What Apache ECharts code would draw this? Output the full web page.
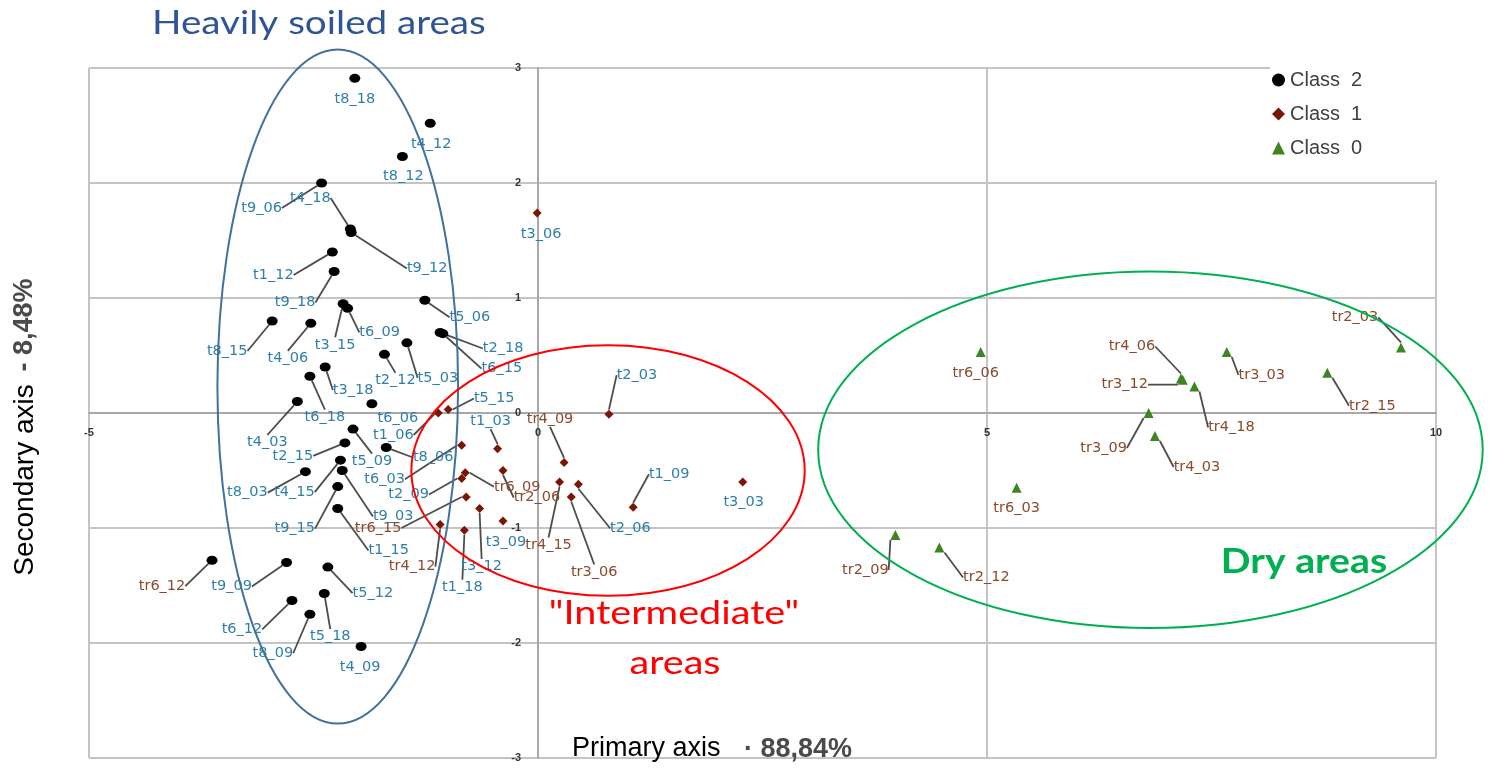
<!DOCTYPE html>
<html>
<head>
<meta charset="utf-8">
<script src="https://cdn.jsdelivr.net/npm/echarts@6/dist/echarts.min.js"></script>
<style>
  html, body { margin: 0; padding: 0; background: #ffffff; }
  #chart { width: 1490px; height: 773px; }
</style>
</head>
<body>
<div id="chart"></div>
<script>
// ---- Sample scores on the first two principal axes ----

// Class 2 (black circles)
const class2Names = ['t8_18','t4_12','t8_12','t9_06','t4_18','t9_12','t1_12','t9_18','t5_06','t3_15',
  't6_09','t8_15','t4_06','t2_18','t6_15','t5_03','t2_12','t3_18','t6_18','t4_03',
  't6_06','t5_09','t2_15','t8_06','t4_15','t8_03','t9_03','t9_15','t1_15','tr6_12',
  't9_09','t5_12','t5_18','t6_12','t8_09','t4_09'];
const class2X = [-2.04,-1.20,-1.51,-2.41,-2.09,-2.08,-2.29,-2.27,-1.26,-2.17,
  -2.12,-2.96,-2.53,-1.09,-1.06,-1.46,-1.71,-2.37,-2.54,-2.68,
  -1.85,-2.06,-2.15,-1.69,-2.20,-2.59,-2.18,-2.23,-2.23,-3.63,
  -2.80,-2.34,-2.38,-2.74,-2.54,-1.97];
const class2Y = [2.91,2.52,2.23,2.00,1.60,1.57,1.40,1.23,0.98,0.95,
  0.91,0.80,0.78,0.70,0.69,0.61,0.51,0.40,0.32,0.10,
  0.08,-0.14,-0.26,-0.30,-0.41,-0.51,-0.50,-0.64,-0.83,-1.28,
  -1.30,-1.34,-1.57,-1.63,-1.75,-2.03];

// Class 1 (dark red diamonds)
const class1Names = ['t3_06','t5_15','t1_06','t2_03','t6_03','t1_03','tr4_09','tr6_09','t2_09','tr2_06',
  'tr4_15','t2_06','tr3_06','tr6_15','t3_12','t3_09','tr4_12','t1_18','t1_09','t3_03'];
const class1X = [-0.01,-1.00,-1.11,0.79,-0.85,-0.45,0.29,-0.81,-0.85,-0.39,
  0.24,0.45,0.37,-0.80,-0.65,-0.39,-1.09,-0.82,1.06,2.28];
const class1Y = [1.74,0.03,0.00,-0.01,-0.28,-0.31,-0.43,-0.52,-0.57,-0.50,
  -0.60,-0.62,-0.73,-0.73,-0.83,-0.94,-0.97,-1.02,-0.82,-0.60];

// Class 0 (green triangles)
const class0Names = ['tr6_06','tr4_06','tr3_12','tr3_03','tr2_03','tr2_15','tr4_18','tr3_09','tr4_03','tr6_03',
  'tr2_09','tr2_12'];
const class0X = [4.93,7.16,7.18,7.67,9.61,8.79,7.31,6.80,6.87,5.33,3.98,4.47];
const class0Y = [0.53,0.30,0.29,0.53,0.57,0.35,0.23,0.00,-0.20,-0.65,-1.06,-1.17];

// Axis ticks
const xTicks = { min: -5, max: 10, step: 5 };
const yTicks = { min: -3, max: 3, step: 1 };

// ---- Label placement: [dx, dy, leader line on/off], pixels from the marker ----
const class2LabelPos = [[0,21,0],[1,21,0],[1,20,0],[-60,25,1],[-40,-31,1],[76,36,1],[-59,23,1],[-39,31,1],[45,17,1],[-8,41,1],
  [32,24,1],[-45,30,1],[-23,35,1],[63,16,1],[59,35,1],[31,35,1],[11,26,1],[28,23,1],[15,41,1],[-30,41,1],
  [26,14,0],[19,32,1],[-52,13,1],[47,10,1],[-46,32,1],[-58,21,1],[51,46,1],[-43,42,1],[51,42,1],[-50,26,1],
  [-55,24,1],[45,26,1],[6,43,1],[-50,29,1],[-37,39,1],[-1,21,0]];
const class1LabelPos = [[4,21,0],[46,-11,1],[-45,22,1],[28,-39,1],[-77,34,1],[-7,-27,1],[-14,-43,1],[52,14,1],[-53,16,1],[34,27,1],
  [-11,63,1],[52,44,1],[23,75,1],[-88,31,1],[2,58,1],[3,21,0],[-28,42,1],[-2,57,1],[36,-33,1],[1,20,0]];
const class0LabelPos = [[-5,21,0],[-49,-32,1],[-58,5,1],[35,23,1],[-46,-30,1],[45,33,1],[37,41,1],[-45,35,1],[42,31,1],[0,20,0],
  [-30,35,1],[47,30,1]];

// Group outlines in data units: centre [x, y], radii [rx, ry]
const soiledZone = { c: [-2.23, 0.23], r: [1.34, 2.93] };
const intermediateZone = { c: [0.78, -0.50], r: [2.19, 1.09] };
const dryZone = { c: [6.82, -0.32], r: [3.70, 1.55] };

// Plot area in pixels
const GRID = { left: 89, right: 54, top: 68, bottom: 15 };
const PLOT_W = 1490 - GRID.left - GRID.right;
const PLOT_H = 773 - GRID.top - GRID.bottom;
// Shift the axes so they cross at the origin
const xAxisShift = -PLOT_H * (0 - yTicks.min) / (yTicks.max - yTicks.min);
const yAxisShift = -PLOT_W * (0 - xTicks.min) / (xTicks.max - xTicks.min);

const chart = echarts.init(document.getElementById('chart'));

const SAMPLE_BLUE = '#2F7FA8';
const SAMPLE_BROWN = '#8A4A2C';

function buildData(names, xs, ys, pos) {
  return names.map((n, i) => ({
    name: n,
    value: [xs[i], ys[i]],
    label: { color: n.startsWith('tr') ? SAMPLE_BROWN : SAMPLE_BLUE },
    labelLine: { show: pos[i][2] === 1 }
  }));
}

function makeSeries(name, symbol, size, color, names, xs, ys, pos) {
  return {
    name: name,
    type: 'scatter',
    symbol: symbol,
    symbolSize: size,
    itemStyle: { color: color, opacity: 1 },
    data: buildData(names, xs, ys, pos),
    label: {
      show: true,
      position: 'inside',
      formatter: '{b}',
      fontFamily: 'DejaVu Sans',
      fontSize: 14.5,
      align: 'center',
      verticalAlign: 'middle'
    },
    labelLine: { show: false, lineStyle: { color: '#4d4d4d', width: 1.8 } },
    labelLayout: function (p) {
      const o = pos[p.dataIndex];
      return { dx: o[0], dy: o[1], hideOverlap: false };
    },
    emphasis: { disabled: true },
    z: 3
  };
}

const axisLineStyle = { color: '#A8A8A8', width: 2 };
const gridLineStyle = { color: '#C4C4C4', width: 2 };

chart.setOption({
  animation: false,
  backgroundColor: '#ffffff',
  grid: { left: GRID.left, right: GRID.right, top: GRID.top, bottom: GRID.bottom, containLabel: false },
  xAxis: {
    type: 'value',
    position: 'bottom',
    offset: xAxisShift,
    min: xTicks.min, max: xTicks.max, interval: xTicks.step,
    axisLine: { onZero: false, lineStyle: axisLineStyle },
    axisTick: { show: false },
    axisLabel: { color: '#333', fontSize: 11, fontWeight: 'bold', margin: 14, fontFamily: 'Liberation Sans' },
    splitLine: { show: true, lineStyle: gridLineStyle }
  },
  yAxis: {
    type: 'value',
    position: 'left',
    offset: yAxisShift,
    min: yTicks.min, max: yTicks.max, interval: yTicks.step,
    axisLine: { onZero: false, lineStyle: axisLineStyle },
    axisTick: { show: false },
    axisLabel: { color: '#333', fontSize: 11, fontWeight: 'bold', margin: 17, fontFamily: 'Liberation Sans' },
    splitLine: { show: true, lineStyle: gridLineStyle }
  },
  legend: {
    orient: 'vertical',
    left: 1270,
    top: 62,
    itemWidth: 13,
    itemHeight: 13,
    itemGap: 10,
    padding: [6, 80, 20, 2],
    backgroundColor: '#ffffff',
    textStyle: { fontFamily: 'Liberation Sans', fontSize: 20, color: '#404040', lineHeight: 24 },
    data: ['Class  2', 'Class  1', 'Class  0'],
    z: 5
  },
  series: [
    makeSeries('Class  2', 'circle', [11, 9], '#000000', class2Names, class2X, class2Y, class2LabelPos),
    makeSeries('Class  1', 'diamond', 9, '#7A1608', class1Names, class1X, class1Y, class1LabelPos),
    makeSeries('Class  0', 'triangle', 10, '#3E8420', class0Names, class0X, class0Y, class0LabelPos)
  ]
});

// Outlines and annotations, placed after the grid is laid out
function zoneEllipse(zone, stroke) {
  const c = chart.convertToPixel({ gridIndex: 0 }, zone.c);
  const e = chart.convertToPixel({ gridIndex: 0 }, [zone.c[0] + zone.r[0], zone.c[1] + zone.r[1]]);
  return {
    type: 'ellipse',
    shape: { cx: c[0], cy: c[1], rx: Math.abs(e[0] - c[0]), ry: Math.abs(c[1] - e[1]) },
    style: { fill: 'none', stroke: stroke, lineWidth: 2 },
    silent: true,
    z: 10
  };
}

chart.setOption({
  graphic: [
    zoneEllipse(soiledZone, '#41719C'),
    zoneEllipse(intermediateZone, '#FF0000'),
    zoneEllipse(dryZone, '#00B050'),
    {
      type: 'text', x: 152, y: 23, scaleX: 1.17, z: 10,
      style: { text: 'Heavily soiled areas', fontFamily: 'Lato', fontSize: 33, fill: '#2F5597', verticalAlign: 'middle' }
    },
    {
      type: 'text', x: 674, y: 613, scaleX: 1.2, z: 10,
      style: { text: '"Intermediate"', fontFamily: 'Lato', fontSize: 33, fill: '#FF0000', align: 'center', verticalAlign: 'middle' }
    },
    {
      type: 'text', x: 675, y: 663, scaleX: 1.2, z: 10,
      style: { text: 'areas', fontFamily: 'Lato', fontSize: 33, fill: '#FF0000', align: 'center', verticalAlign: 'middle' }
    },
    {
      type: 'text', x: 1304, y: 562, scaleX: 1.12, z: 10,
      style: { text: 'Dry areas', fontFamily: 'Lato', fontWeight: 'bold', fontSize: 35, fill: '#00B050', align: 'center', verticalAlign: 'middle' }
    },
    {
      type: 'text', x: 572, y: 749, z: 10,
      style: { text: 'Primary axis', fontFamily: 'Liberation Sans', fontSize: 27, fill: '#000000', verticalAlign: 'middle' }
    },
    {
      type: 'text', x: 744, y: 750, z: 10,
      style: { text: '· 88,84%', fontFamily: 'Liberation Sans', fontWeight: 'bold', fontSize: 27, fill: '#4a4a4a', verticalAlign: 'middle' }
    },
    {
      type: 'text', x: 25, y: 480, rotation: Math.PI / 2, z: 10,
      style: { text: 'Secondary axis', fontFamily: 'Liberation Sans', fontSize: 28, fill: '#000000', align: 'center', verticalAlign: 'middle' }
    },
    {
      type: 'text', x: 25, y: 325, rotation: Math.PI / 2, z: 10,
      style: { text: '- 8,48%', fontFamily: 'Liberation Sans', fontWeight: 'bold', fontSize: 27, fill: '#4a4a4a', align: 'center', verticalAlign: 'middle' }
    }
  ]
});
</script>
</body>
</html>
